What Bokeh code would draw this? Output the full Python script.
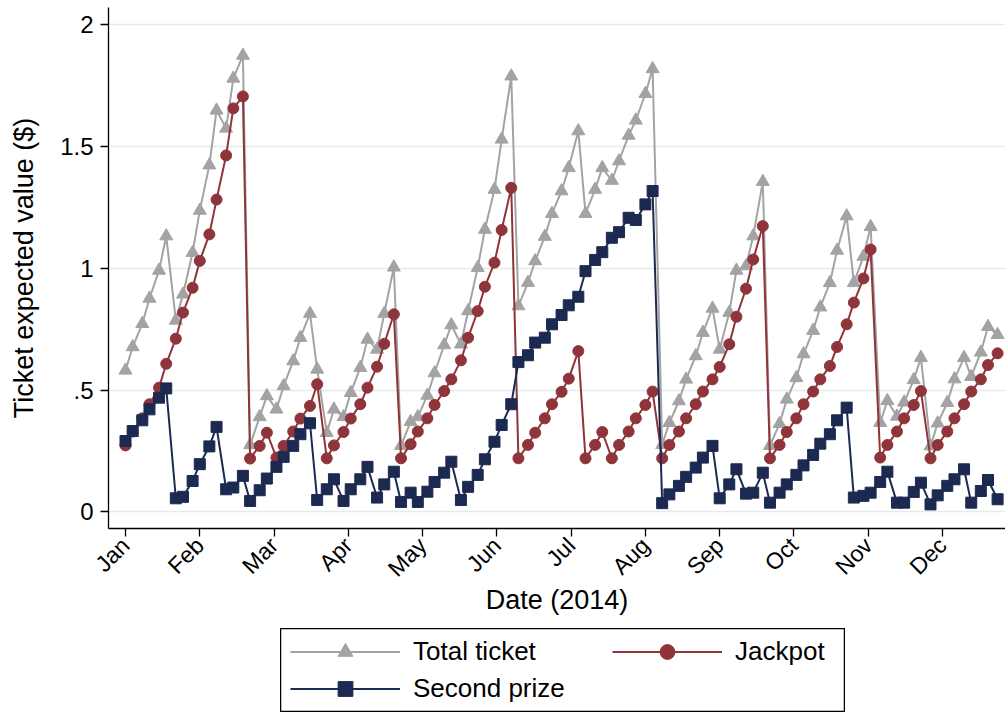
import math
from datetime import date
from bokeh.plotting import figure
from bokeh.models import (FixedTicker, Range1d, Legend, LegendItem, Spacer,
                          ColumnDataSource)
from bokeh.layouts import column, row
from bokeh.embed import file_html
from bokeh.resources import INLINE

# ---------------- data ----------------
draw_dates = [
    "2014-01-01", "2014-01-04", "2014-01-08", "2014-01-11", "2014-01-15", "2014-01-18",
    "2014-01-22", "2014-01-25", "2014-01-29", "2014-02-01", "2014-02-05", "2014-02-08",
    "2014-02-12", "2014-02-15", "2014-02-19", "2014-02-22", "2014-02-26", "2014-03-01",
    "2014-03-05", "2014-03-08", "2014-03-12", "2014-03-15", "2014-03-19", "2014-03-22",
    "2014-03-26", "2014-03-29", "2014-04-02", "2014-04-05", "2014-04-09", "2014-04-12",
    "2014-04-16", "2014-04-19", "2014-04-23", "2014-04-26", "2014-04-30", "2014-05-03",
    "2014-05-07", "2014-05-10", "2014-05-14", "2014-05-17", "2014-05-21", "2014-05-24",
    "2014-05-28", "2014-05-31", "2014-06-04", "2014-06-07", "2014-06-11", "2014-06-14",
    "2014-06-18", "2014-06-21", "2014-06-25", "2014-06-28", "2014-07-02", "2014-07-05",
    "2014-07-09", "2014-07-12", "2014-07-16", "2014-07-19", "2014-07-23", "2014-07-26",
    "2014-07-30", "2014-08-02", "2014-08-06", "2014-08-09", "2014-08-13", "2014-08-16",
    "2014-08-20", "2014-08-23", "2014-08-27", "2014-08-30", "2014-09-03", "2014-09-06",
    "2014-09-10", "2014-09-13", "2014-09-17", "2014-09-20", "2014-09-24", "2014-09-27",
    "2014-10-01", "2014-10-04", "2014-10-08", "2014-10-11", "2014-10-15", "2014-10-18",
    "2014-10-22", "2014-10-25", "2014-10-29", "2014-11-01", "2014-11-05", "2014-11-08",
    "2014-11-12", "2014-11-15", "2014-11-19", "2014-11-22", "2014-11-26", "2014-11-29",
    "2014-12-03", "2014-12-06", "2014-12-10", "2014-12-13", "2014-12-17", "2014-12-20",
    "2014-12-24", "2014-12-27", "2014-12-31",
]

total_ticket = [
    0.581, 0.677, 0.772, 0.876, 0.991, 1.132, 0.786, 0.893, 1.064, 1.237,
    1.423, 1.648, 1.574, 1.779, 1.873, 0.275, 0.390, 0.476, 0.421, 0.517,
    0.619, 0.715, 0.814, 0.585, 0.325, 0.421, 0.390, 0.489, 0.592, 0.708,
    0.667, 0.814, 1.004, 0.272, 0.370, 0.390, 0.478, 0.570, 0.685, 0.767,
    0.688, 0.825, 1.002, 1.159, 1.323, 1.529, 1.788, 0.845, 0.941, 1.030,
    1.130, 1.224, 1.317, 1.412, 1.563, 1.224, 1.323, 1.412, 1.360, 1.440,
    1.545, 1.607, 1.716, 1.818, 0.276, 0.366, 0.455, 0.544, 0.640, 0.736,
    0.835, 0.667, 0.818, 0.991, 1.009, 1.132, 1.355, 0.272, 0.362, 0.462,
    0.550, 0.648, 0.744, 0.840, 0.940, 1.073, 1.214, 0.940, 1.048, 1.170,
    0.366, 0.456, 0.392, 0.450, 0.542, 0.633, 0.270, 0.364, 0.448, 0.545,
    0.633, 0.555, 0.655, 0.760, 0.727,
]

jackpot = [
    0.273, 0.330, 0.384, 0.442, 0.510, 0.608, 0.711, 0.818, 0.920, 1.030,
    1.139, 1.282, 1.463, 1.656, 1.705, 0.219, 0.271, 0.325, 0.223, 0.271,
    0.330, 0.383, 0.435, 0.524, 0.220, 0.273, 0.328, 0.383, 0.442, 0.510,
    0.596, 0.690, 0.811, 0.220, 0.278, 0.330, 0.384, 0.439, 0.496, 0.544,
    0.622, 0.715, 0.824, 0.924, 1.023, 1.157, 1.330, 0.220, 0.275, 0.325,
    0.384, 0.442, 0.493, 0.547, 0.660, 0.220, 0.275, 0.328, 0.220, 0.275,
    0.330, 0.384, 0.439, 0.494, 0.220, 0.275, 0.330, 0.384, 0.442, 0.494,
    0.544, 0.595, 0.688, 0.801, 0.916, 1.036, 1.173, 0.220, 0.275, 0.328,
    0.384, 0.442, 0.494, 0.544, 0.599, 0.677, 0.770, 0.859, 0.958, 1.077,
    0.223, 0.275, 0.330, 0.384, 0.439, 0.496, 0.220, 0.275, 0.330, 0.384,
    0.442, 0.494, 0.544, 0.603, 0.651,
]

second_prize = [
    0.291, 0.332, 0.376, 0.421, 0.469, 0.507, 0.056, 0.062, 0.127, 0.196,
    0.269, 0.349, 0.093, 0.100, 0.148, 0.045, 0.089, 0.137, 0.185, 0.226,
    0.271, 0.319, 0.364, 0.049, 0.093, 0.134, 0.045, 0.093, 0.134, 0.185,
    0.059, 0.113, 0.165, 0.041, 0.079, 0.041, 0.083, 0.123, 0.161, 0.206,
    0.049, 0.103, 0.152, 0.216, 0.288, 0.357, 0.442, 0.615, 0.643, 0.695,
    0.715, 0.770, 0.808, 0.848, 0.883, 0.988, 1.034, 1.066, 1.125, 1.148,
    1.207, 1.198, 1.262, 1.317, 0.036, 0.072, 0.107, 0.144, 0.182, 0.223,
    0.271, 0.056, 0.113, 0.175, 0.075, 0.079, 0.161, 0.038, 0.079, 0.113,
    0.152, 0.191, 0.234, 0.280, 0.319, 0.376, 0.428, 0.059, 0.066, 0.079,
    0.123, 0.165, 0.038, 0.038, 0.082, 0.120, 0.031, 0.068, 0.107, 0.134,
    0.175, 0.038, 0.086, 0.131, 0.052,
]

month_labels = ["Jan", "Feb", "Mar", "Apr", "May", "Jun",
                "Jul", "Aug", "Sep", "Oct", "Nov", "Dec"]
month_tick_days = [0, 31, 62, 93, 124, 155, 186, 217, 248, 279, 310, 341]
y_ticks = [0, 0.5, 1, 1.5, 2]
y_tick_labels = ["0", ".5", "1", "1.5", "2"]

series_labels = ["Total ticket", "Jackpot", "Second prize"]
# --------------------------------------

FONT = "Liberation Sans"
C_TOTAL = "#a3a3a3"
C_JACK = "#8f343a"
C_SEC = "#1c2a52"

start = date(2014, 1, 1)
days = [(date.fromisoformat(s) - start).days for s in draw_dates]
src = ColumnDataSource(dict(day=days, total=total_ticket, jack=jackpot, sec=second_prize))

p = figure(width=1005, height=628, x_range=Range1d(-7.1, 367.3),
           y_range=Range1d(-0.068, 2.070), toolbar_location=None,
           output_backend="svg", min_border_left=108, min_border_right=0,
           min_border_top=7, min_border_bottom=100)
p.outline_line_color = None
p.background_fill_color = "white"
p.border_fill_color = "white"

p.line("day", "total", source=src, color=C_TOTAL, line_width=2)
p.scatter("day", "total", source=src, marker="triangle", size=13, color=C_TOTAL)
p.line("day", "jack", source=src, color=C_JACK, line_width=2)
p.scatter("day", "jack", source=src, marker="circle", size=11, color=C_JACK)
p.line("day", "sec", source=src, color=C_SEC, line_width=2)
p.scatter("day", "sec", source=src, marker="square", size=11, color=C_SEC)

# axes
p.xaxis.ticker = FixedTicker(ticks=month_tick_days)
p.xaxis.major_label_overrides = {d: m for d, m in zip(month_tick_days, month_labels)}
p.xaxis.major_label_orientation = math.pi / 4
p.xaxis.axis_label = "Date (2014)"
p.yaxis.ticker = FixedTicker(ticks=y_ticks)
p.yaxis.major_label_overrides = {t: l for t, l in zip(y_ticks, y_tick_labels)}
p.yaxis.major_label_orientation = "horizontal"
p.yaxis.axis_label = "Ticket expected value ($)"

for ax in (p.xaxis[0], p.yaxis[0]):
    ax.axis_line_color = "black"
    ax.axis_line_width = 1.3
    ax.major_tick_line_color = "black"
    ax.major_tick_line_width = 1.3
    ax.major_tick_out = 8
    ax.major_tick_in = 0
    ax.minor_tick_line_color = None
    ax.major_label_text_font = FONT
    ax.axis_label_text_font = FONT
    ax.axis_label_text_font_style = "normal"
    ax.axis_label_text_color = "black"
    ax.major_label_text_color = "black"

p.yaxis.major_label_text_font_size = "24px"
p.yaxis.major_label_standoff = 7
p.yaxis.axis_label_text_font_size = "27px"
p.yaxis.axis_label_standoff = 18
p.xaxis.major_label_text_font_size = "23px"
p.xaxis.major_label_standoff = 5
p.xaxis.axis_label_text_font_size = "27px"
p.xaxis.axis_label_standoff = -9

p.xgrid.grid_line_color = None
p.ygrid.grid_line_color = "#e3ebee"
p.ygrid.grid_line_width = 1.5

# legend in its own small figure (box = frame outline); its sample renderers
# use the same data but sit outside that figure's visible range
lf = figure(width=565, height=84, x_range=Range1d(-1001, -1000), y_range=Range1d(-1001, -1000),
            toolbar_location=None, output_backend="svg", min_border=0)
lf.axis.visible = False
lf.grid.visible = False
lf.outline_line_color = "black"
lf.outline_line_width = 1.5
lf.background_fill_color = "white"
lf.border_fill_color = "white"

lt_l = lf.line("day", "total", source=src, color=C_TOTAL, line_width=2)
lt_m = lf.scatter("day", "total", source=src, marker="triangle", size=13, color=C_TOTAL)
lj_l = lf.line("day", "jack", source=src, color=C_JACK, line_width=2)
lj_m = lf.scatter("day", "jack", source=src, marker="circle", size=11, color=C_JACK)
ls_l = lf.line("day", "sec", source=src, color=C_SEC, line_width=2)
ls_m = lf.scatter("day", "sec", source=src, marker="square", size=11, color=C_SEC)


def make_legend(items, loc):
    lg = Legend(items=items, location=loc, orientation="vertical",
                glyph_width=110, glyph_height=37, label_height=37,
                label_standoff=13, spacing=0, padding=0, margin=0,
                border_line_color=None, background_fill_alpha=0,
                label_text_font=FONT, label_text_font_size="26px",
                label_text_color="black")
    return lg


leg1 = make_legend([LegendItem(label=series_labels[0], renderers=[lt_l, lt_m]),
                    LegendItem(label=series_labels[2], renderers=[ls_l, ls_m])], (10, 5))
leg2 = make_legend([LegendItem(label=series_labels[1], renderers=[lj_l, lj_m])], (332, 42))
lf.add_layout(leg1, "center")
lf.add_layout(leg2, "center")

layout = column(p, row(Spacer(width=280, height=84), lf, spacing=0), spacing=0)

open("out.html", "w").write(file_html(layout, INLINE))
